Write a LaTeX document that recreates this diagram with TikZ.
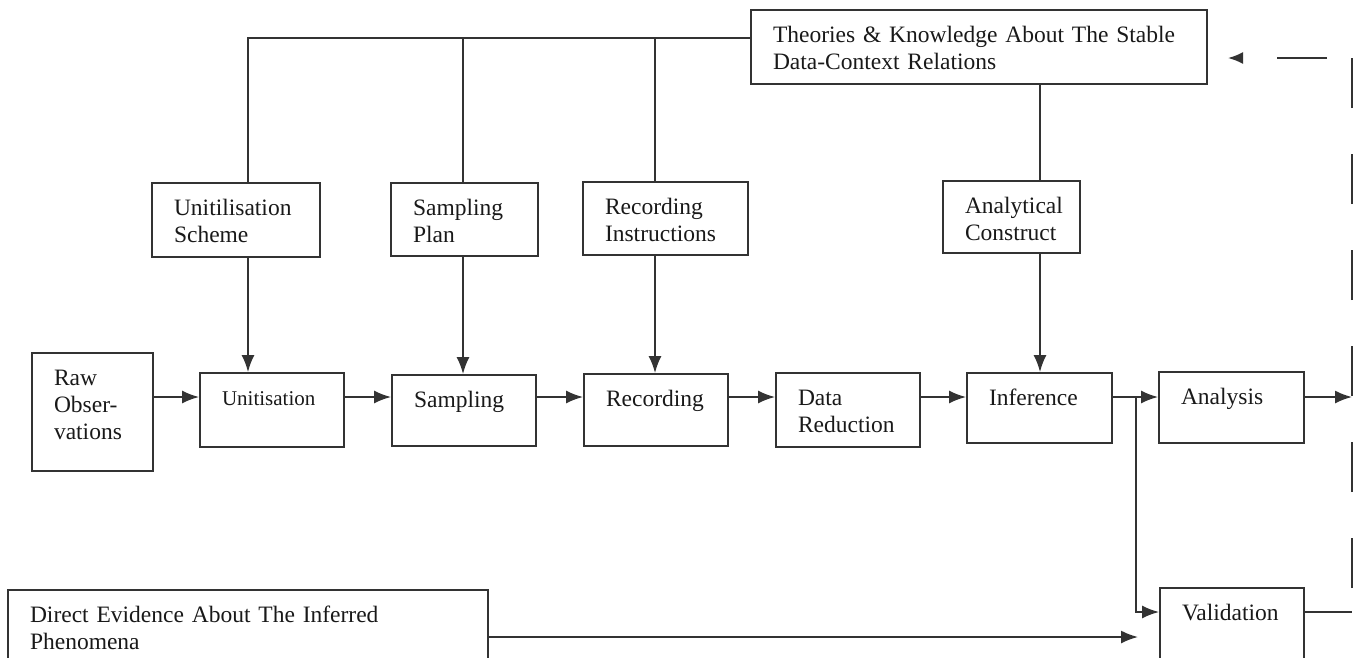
\documentclass[tikz,border=0pt]{standalone}
\usepackage{fontspec}
\setmainfont{Liberation Serif}
\usetikzlibrary{arrows.meta}

\begin{document}
\begin{tikzpicture}[
    x=1pt, y=-1pt,
    box/.style={draw=black!80, line width=1.8pt, align=left, text=black!90,
        inner xsep=22pt, inner ysep=8pt, text height=24pt, text width=#1,
        font=\fontsize{23.5}{27}\selectfont},
    link/.style={draw=black!80, line width=1.8pt},
    arr/.style={link, -{Latex[length=17pt,width=13pt]}},
    fback/.style={link, dash pattern=on 50pt off 46pt}
]
\useasboundingbox (0,0) rectangle (1364,657);
% Box widths
\def\tw{100pt} % common row box

% Knowledge and plans
\node[box=412pt, text depth=34pt] (theory) at (979,47) {Theories \& Knowledge About The Stable\\Data-Context Relations};
\node[box=124pt, text depth=34pt] (uscheme) at (236,220) {Unitilisation\\Scheme};
\node[box=103pt, text depth=33pt] (splan) at (464.5,219.5) {Sampling\\Plan};
\node[box=121pt, text depth=33pt] (rinstr) at (665.5,218.5) {Recording\\Instructions};
\node[box=93pt, text depth=32pt] (acons) at (1011.5,217) {Analytical\\Construct};

% Main row
\node[box=77pt, text depth=78pt] (raw) at (92.5,412) {Raw\\Obser-\\vations};
\node[box=\tw, text depth=34pt, font=\fontsize{21}{25}\selectfont] (unit) at (272,410) {Unitisation};
\node[box=\tw, text depth=31pt] (samp) at (464,410.5) {Sampling};
\node[box=\tw, text depth=32pt] (rec) at (656,410) {Recording};
\node[box=\tw, text depth=34pt] (dred) at (848,410) {Data\\Reduction};
\node[box=101pt, text depth=30pt] (infer) at (1039.5,408) {Inference};
\node[box=101pt, text depth=31pt] (anal) at (1231.5,407.5) {Analysis};

% Validation row
\node[box=\tw, text depth=40pt] (valid) at (1232,628) {Validation};
\node[box=436pt, text depth=54pt] (devid) at (248,637) {Direct Evidence About The Inferred\\Phenomena};

% Junctions
\coordinate (cu) at (248,38);
\coordinate (cs) at (463,38);
\coordinate (cr) at (655,38);
\coordinate (ca) at (1040,0);
\coordinate (ry) at (0,397);
\coordinate (brk) at (1136,612);
\coordinate (evtip) at (1138,637);
\coordinate (fbb) at (1352,612);
\coordinate (fbt) at (1352,58);
\coordinate (fbtip) at (1228,58);

% Top bus
\draw[link] (theory.west |- cu) -- (cu) -- (cu |- uscheme.north);
\draw[link] (cs) -- (cs |- splan.north);
\draw[link] (cr) -- (cr |- rinstr.north);
\draw[link] (ca |- theory.south) -- (ca |- acons.north);

% Down into the row
\draw[arr] (cu |- uscheme.south) -- (cu |- unit.north);
\draw[arr] (cs |- splan.south) -- (cs |- samp.north);
\draw[arr] (cr |- rinstr.south) -- (cr |- rec.north);
\draw[arr] (ca |- acons.south) -- (ca |- infer.north);

% Main flow
\draw[arr] (raw.east |- ry) -- (unit.west |- ry);
\foreach \a/\b in {unit/samp, samp/rec, rec/dred, dred/infer, infer/anal}
    \draw[arr] (\a.east |- ry) -- (\b.west |- ry);
\draw[arr] (anal.east |- ry) -- (fbt |- ry);

% Validation
\draw[arr] (brk |- ry) -- (brk) -- (valid.west |- brk);
\draw[arr] (devid.east) -- (evtip);

% Feedback
\draw[link] (valid.east |- fbb) -- (fbb);
\draw[fback, dash phase=72pt] (fbb) -- (fbt);
\draw[fback, dash pattern=on 50pt off 49pt, dash phase=74pt,
    -{Latex[length=15pt,width=12pt]}] (fbt) -- (fbtip);
\end{tikzpicture}
\end{document}
